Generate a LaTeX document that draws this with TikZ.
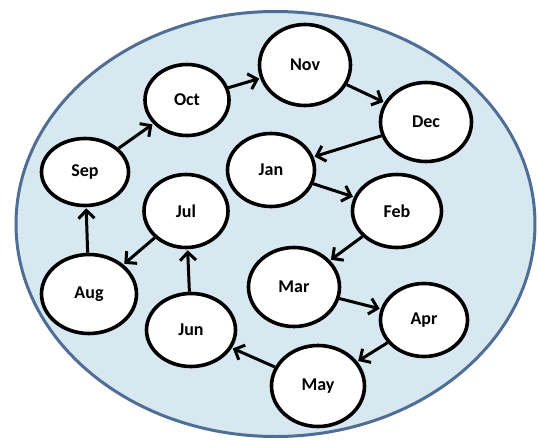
\documentclass[tikz,border=0pt]{standalone}
\usepackage{fontspec}
\setmainfont{Carlito}
\usetikzlibrary{shapes.geometric,arrows.meta}
\definecolor{bgfill}{HTML}{D8E8F1}
\definecolor{bgline}{HTML}{4E6E96}
\tikzset{
  month/.style={ellipse,draw=black,fill=white,line width=3.6pt,inner sep=0pt,font=\bfseries\fontsize{18}{20}\selectfont},
  link/.style={line width=3pt,-{Straight Barb[length=8pt,width=16pt,line width=3pt]},shorten >=1pt}
}
\begin{document}
\begin{tikzpicture}[x=1pt,y=-1pt]
\useasboundingbox (0,0) rectangle (539,442);
\node[ellipse,draw=bgline,fill=bgfill,line width=3pt,minimum width=519pt,minimum height=425pt,inner sep=0pt] (bg) at (275.5,224) {};
\node[month,minimum width=84pt,minimum height=71pt] (oct) at (187,100) {Oct};
\node[month,minimum width=87pt,minimum height=67pt] (sep) at (85,172) {Sep};
\node[month,minimum width=91pt,minimum height=81pt] (nov) at (305,65) {Nov};
\node[month,minimum width=91pt,minimum height=79pt] (dec) at (426,122) {Dec};
\node[month,minimum width=87pt,minimum height=73pt] (jan) at (271,170) {Jan};
\node[month,minimum width=89pt,minimum height=73pt] (feb) at (397,211) {Feb};
\node[month,minimum width=84pt,minimum height=73pt] (jul) at (186,211) {Jul};
\node[month,minimum width=95pt,minimum height=79pt] (aug) at (89,294) {Aug};
\node[month,minimum width=89pt,minimum height=73pt] (jun) at (191,330) {Jun};
\node[month,minimum width=91pt,minimum height=79pt] (mar) at (294,287) {Mar};
\node[month,minimum width=87pt,minimum height=73pt] (apr) at (424,320) {Apr};
\node[month,minimum width=93pt,minimum height=81pt] (may) at (318,386) {May};
\draw[link] (aug) -- (sep);
\draw[link] (sep) -- (oct);
\draw[link] (oct) -- (nov);
\draw[link] (nov) -- (dec);
\draw[link] (dec) -- (jan);
\draw[link] (jan) -- (feb);
\draw[link] (feb) -- (mar);
\draw[link] (mar) -- (apr);
\draw[link] (apr) -- (may);
\draw[link] (may) -- (jun);
\draw[link] (jun) -- (jul);
\draw[link] (jul) -- (aug);
\end{tikzpicture}
\end{document}
